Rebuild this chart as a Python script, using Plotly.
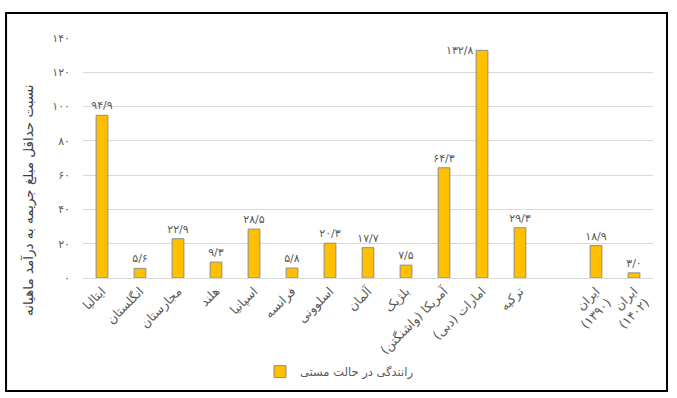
import plotly.graph_objects as go

categories = ["ایتالیا", "انگلستان", "مجارستان", "هلند", "اسپانیا", "فرانسه", "اسلوونی",
              "آلمان", "بلژیک", "آمریکا (واشنگتن)", "امارات (دبی)", "ترکیه", " ",
              "ایران<br>(۱۳۹۰)", "ایران<br>(۱۴۰۲)"]
values = [94.9, 5.6, 22.9, 9.3, 28.5, 5.8, 20.3, 17.7, 7.5, 64.3, 132.8, 29.3, None, 18.9, 3.0]
series_name = "رانندگی در حالت مستی"
y_title = "نسبت حداقل مبلغ جریمه به درآمد ماهیانه"
y_ticks = [0, 20, 40, 60, 80, 100, 120, 140]

FA = str.maketrans("0123456789.", "۰۱۲۳۴۵۶۷۸۹/")

def fa(v, dec=True):
    if v is None:
        return ""
    s = f"{v:.1f}" if dec else f"{v:g}"
    return s.translate(FA)

FONT = "DejaVu Sans"
GRAY = "#595959"
Y_MAX = 140

# labels that would not fit above the bar are placed to its left (as in the source)
texts = [fa(v) if (v is not None and v < Y_MAX - 10) else "" for v in values]
side_labels = [dict(x=c, y=v, text=fa(v), xref="x", yref="y", xanchor="right",
                    yanchor="middle", xshift=-7, showarrow=False,
                    font=dict(family=FONT, size=11, color=GRAY))
               for c, v in zip(categories, values) if v is not None and v >= Y_MAX - 10]

fig = go.Figure()
fig.add_trace(go.Bar(
    x=categories, y=values, name=series_name,
    marker=dict(color="#FFC000", line=dict(color="#8c8c8c", width=1)),
    width=0.31,
    text=texts, textposition="outside", cliponaxis=False, constraintext="none",
    textfont=dict(family=FONT, size=11, color=GRAY),
    showlegend=True,
))

fig.update_layout(
    width=677, height=398,
    margin=dict(l=83, r=24, t=38, b=120),
    paper_bgcolor="white", plot_bgcolor="white",
    font=dict(family=FONT, color=GRAY),
    bargap=0.69,
    xaxis=dict(
        type="category", tickangle=-45, tickfont=dict(family=FONT, size=12.5, color=GRAY),
        showgrid=False, showline=True, linecolor="#d9d9d9", linewidth=1, ticks="",
    ),
    yaxis=dict(
        range=[0, Y_MAX], tickvals=y_ticks, ticktext=[fa(t, False) for t in y_ticks],
        tickfont=dict(family=FONT, size=11, color=GRAY),
        showgrid=True, gridcolor="#d9d9d9", gridwidth=1, zeroline=False,
        ticks="", ticklabelstandoff=12,
    ),
    legend=dict(orientation="h", x=0.45, xanchor="center", y=-0.39, yanchor="middle",
                font=dict(family=FONT, size=11.5, color=GRAY)),
    annotations=[dict(
        text=y_title, textangle=-90, xref="paper", yref="paper",
        x=-0.0965, y=0.325, xanchor="center", yanchor="middle", showarrow=False,
        font=dict(family=FONT, size=13.5, color="#404040"),
    )] + side_labels,
    shapes=[dict(type="rect", xref="paper", yref="paper",
                 x0=-0.135, x1=1.0246, y0=-0.471, y1=1.104,
                 line=dict(color="black", width=2), fillcolor="rgba(0,0,0,0)")],
)

fig.write_html("out.html", config={"displayModeBar": False},
               post_script="document.body.style.margin='0px';")
